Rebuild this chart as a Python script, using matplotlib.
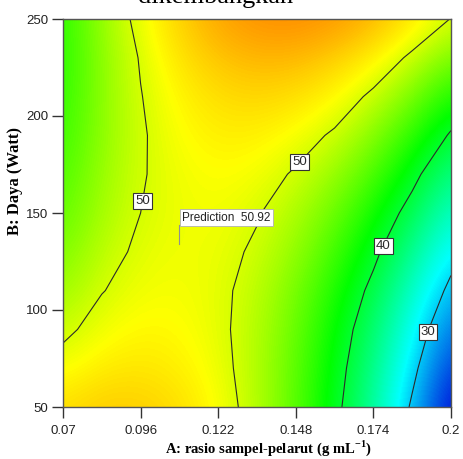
import matplotlib
matplotlib.use('Agg')
import numpy as np
import matplotlib.pyplot as plt
from matplotlib.colors import LinearSegmentedColormap

# ---- data ----
ratio_vals = [0.070, 0.083, 0.096, 0.109, 0.122, 0.135, 0.148, 0.161, 0.174, 0.187, 0.200]
power_vals = [50, 70, 90, 110, 130, 150, 170, 190, 210, 230, 250]
# response (rows = power, columns = ratio)
yield_grid = [
    [53.1, 54.0, 53.9, 53.1, 51.4, 48.7, 45.2, 41.0, 35.7, 29.5, 23.1],
    [51.1, 52.4, 52.7, 52.2, 50.9, 48.6, 45.4, 41.5, 36.6, 30.9, 24.9],
    [49.4, 51.0, 51.8, 51.6, 50.6, 48.7, 45.8, 42.1, 37.7, 32.3, 26.9],
    [47.8, 49.9, 51.0, 51.2, 50.6, 49.0, 46.4, 43.1, 39.1, 34.1, 29.1],
    [46.6, 49.0, 50.5, 51.0, 50.8, 49.6, 47.4, 44.4, 40.8, 36.3, 31.4],
    [45.5, 48.2, 50.0, 50.9, 51.1, 50.2, 48.4, 45.9, 42.6, 38.7, 33.9],
    [44.8, 47.7, 49.8, 51.0, 51.5, 51.1, 49.7, 47.6, 44.7, 41.0, 36.6],
    [44.1, 47.3, 49.7, 51.4, 52.2, 52.1, 51.2, 49.6, 46.9, 43.6, 39.6],
    [43.7, 47.2, 49.9, 51.9, 53.1, 53.5, 53.0, 51.7, 49.4, 46.4, 42.8],
    [43.4, 47.2, 50.2, 52.8, 54.4, 55.1, 55.0, 53.9, 52.1, 49.4, 46.3],
    [43.5, 47.6, 50.9, 53.8, 55.9, 57.0, 57.2, 56.6, 55.1, 52.7, 49.9],
]
contour_levels = [30, 40, 50]
label_spots = [(0.0966, 156.4), (0.1491, 176.3), (0.1771, 133.2), (0.192, 88.9)]
x_ticks = [0.07, 0.096, 0.122, 0.148, 0.174, 0.2]
x_tick_labels = ['0.07', '0.096', '0.122', '0.148', '0.174', '0.2']
y_ticks = [50, 100, 150, 200, 250]
y_tick_labels = ['50', '100', '150', '200', '250']
pred_ratio, pred_power, pred_value = 0.109, 134.0, 50.92
title_text = 'dikembangkan'
x_label = r'A: rasio sampel-pelarut (g mL$^{\mathbf{-1}}$)'
y_label = 'B: Daya (Watt)'

# ---- colour map (Design-Expert style) ----
vmin, vmax = 23.0, 62.0
anchors = [(23.0, (0.0, 0.0, 0.85)), (32.0, (0.0, 1.0, 1.0)), (42.0, (0.0, 1.0, 0.0)),
           (51.5, (1.0, 1.0, 0.0)), (57.5, (1.0, 0.53, 0.0)), (62.0, (1.0, 0.0, 0.0))]
cmap = LinearSegmentedColormap.from_list(
    'de', [((v - vmin) / (vmax - vmin), c) for v, c in anchors])

plt.rcParams['mathtext.fontset'] = 'custom'
plt.rcParams['mathtext.rm'] = 'Liberation Serif'
plt.rcParams['mathtext.bf'] = 'Liberation Serif:bold'

W, H = 463, 459
fig = plt.figure(figsize=(W / 100, H / 100), dpi=100)
ax = fig.add_axes([63 / W, 1 - 407 / H, 388 / W, 388 / H])

Z = np.array(yield_grid)
dx = (ratio_vals[1] - ratio_vals[0]) / 2
dy = (power_vals[1] - power_vals[0]) / 2
ax.imshow(Z, origin='lower', aspect='auto', cmap=cmap, vmin=vmin, vmax=vmax,
          extent=[ratio_vals[0] - dx, ratio_vals[-1] + dx, power_vals[0] - dy, power_vals[-1] + dy],
          interpolation='bicubic', interpolation_stage='data')

cs = ax.contour(ratio_vals, power_vals, Z, levels=contour_levels,
                colors='#2a2a2a', linewidths=0.8)
labels = ax.clabel(cs, fmt='%d', fontsize=9.5, inline=False, manual=label_spots)
for t in labels:
    t.set_rotation(0)
    t.set_fontfamily('Liberation Sans')
    t.set_zorder(5)
    t.set_bbox(dict(boxstyle='square,pad=0.15', fc='white', ec='#333333', lw=0.8))

# prediction flag
flag_top = pred_power + 9.8
ax.plot([pred_ratio, pred_ratio], [pred_power, flag_top], color='#909090', lw=0.8, zorder=4)
ax.annotate(f'Prediction  {pred_value:.2f}', xy=(pred_ratio, pred_power),
            xytext=(2.5, 20.5), textcoords='offset pixels', ha='left', va='bottom',
            fontsize=8.5, family='Liberation Sans', color='#222222', zorder=6,
            bbox=dict(boxstyle='square,pad=0.2', fc='white', ec='#b0b0b0', lw=0.6))

ax.set_xlim(0.07, 0.2)
ax.set_ylim(50, 250)
ax.set_xticks(x_ticks)
ax.set_xticklabels(x_tick_labels)
ax.set_yticks(y_ticks)
ax.set_yticklabels(y_tick_labels)
ax.tick_params(axis='both', direction='out', length=8, width=1, color='#333333',
               labelsize=9.5)
ax.tick_params(axis='x', pad=5)
ax.tick_params(axis='y', pad=2.5)
for lab in ax.get_xticklabels() + ax.get_yticklabels():
    lab.set_fontfamily('Liberation Sans')
    lab.set_color('#222222')
for s in ax.spines.values():
    s.set_color('#555555')
    s.set_linewidth(1.0)

fig.text(269 / W, 1 - 448 / H, x_label, ha='center', va='center',
         fontsize=10.5, fontweight='bold', family='Liberation Serif')
fig.text(15 / W, 1 - 181 / H, y_label, ha='center', va='center', rotation=90,
         fontsize=12, fontweight='bold', family='Liberation Serif')
fig.text(216 / W, 1 - 2.5 / H, title_text, ha='center', va='baseline',
         fontsize=19, family='Liberation Serif')

fig.savefig('out.png', dpi=100)
